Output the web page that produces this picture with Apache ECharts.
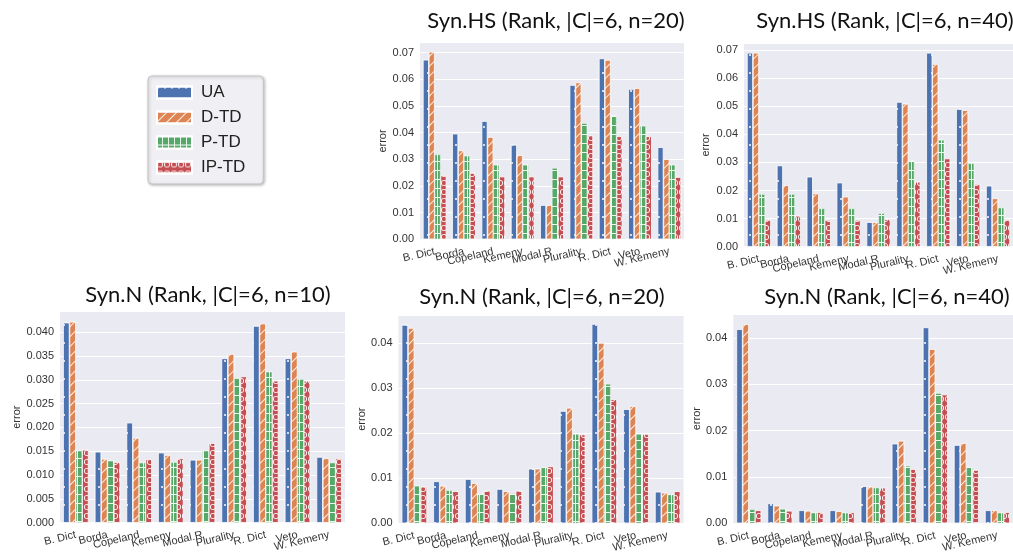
<!DOCTYPE html>
<html>
<head>
<meta charset="utf-8">
<script src="https://cdn.jsdelivr.net/npm/echarts@6/dist/echarts.min.js"></script>
<style>
html,body{margin:0;padding:0;background:#fff;}
#chart{width:1013px;height:554px;}
</style>
</head>
<body>
<div id="chart"></div>
<script>
// ---- data ----
const categories = ['B. Dict','Borda','Copeland','Kemeny','Modal.R','Plurality','R. Dict','Veto','W. Kemeny'];
const methods = ['UA','D-TD','P-TD','IP-TD'];
const panelTitles = ['Syn.HS (Rank, |C|=6, n=20)','Syn.HS (Rank, |C|=6, n=40)','Syn.N (Rank, |C|=6, n=10)','Syn.N (Rank, |C|=6, n=20)','Syn.N (Rank, |C|=6, n=40)'];

// Syn.HS n=20
const hs20_UA   = [0.0673,0.0396,0.0443,0.0354,0.0128,0.0578,0.0678,0.0563,0.0345];
const hs20_DTD  = [0.0703,0.0333,0.0383,0.0315,0.0128,0.0588,0.0672,0.0566,0.0300];
const hs20_PTD  = [0.0318,0.0313,0.0279,0.0279,0.0267,0.0435,0.0463,0.0425,0.0279];
const hs20_IPTD = [0.0240,0.0248,0.0235,0.0235,0.0235,0.0389,0.0386,0.0386,0.0233];
// Syn.HS n=40
const hs40_UA   = [0.0690,0.0289,0.0249,0.0228,0.0087,0.0515,0.0690,0.0490,0.0217];
const hs40_DTD  = [0.0690,0.0219,0.0190,0.0178,0.0087,0.0509,0.0650,0.0486,0.0172];
const hs40_PTD  = [0.0187,0.0187,0.0136,0.0136,0.0119,0.0306,0.0380,0.0297,0.0139];
const hs40_IPTD = [0.0095,0.0110,0.0095,0.0095,0.0098,0.0231,0.0314,0.0223,0.0095];
// Syn.N n=10
const n10_UA   = [0.0420,0.0149,0.0210,0.0147,0.0132,0.0345,0.0413,0.0345,0.0138];
const n10_DTD  = [0.0422,0.0134,0.0178,0.0142,0.0132,0.0354,0.0418,0.0359,0.0135];
const n10_PTD  = [0.0151,0.0130,0.0126,0.0127,0.0151,0.0303,0.0317,0.0301,0.0126];
const n10_IPTD = [0.0153,0.0127,0.0133,0.0135,0.0167,0.0307,0.0298,0.0298,0.0135];
// Syn.N n=20
const n20_UA   = [0.0440,0.0093,0.0098,0.0076,0.0121,0.0249,0.0442,0.0253,0.0070];
const n20_DTD  = [0.0433,0.0083,0.0089,0.0071,0.0121,0.0256,0.0400,0.0260,0.0068];
const n20_PTD  = [0.0083,0.0073,0.0065,0.0066,0.0124,0.0198,0.0309,0.0198,0.0064];
const n20_IPTD = [0.0081,0.0071,0.0072,0.0072,0.0126,0.0197,0.0275,0.0198,0.0071];
// Syn.N n=40
const n40_UA   = [0.0419,0.0043,0.0028,0.0028,0.0080,0.0172,0.0423,0.0169,0.0028];
const n40_DTD  = [0.0430,0.0038,0.0027,0.0026,0.0079,0.0178,0.0376,0.0173,0.0028];
const n40_PTD  = [0.0030,0.0031,0.0023,0.0023,0.0077,0.0124,0.0281,0.0121,0.0023];
const n40_IPTD = [0.0028,0.0027,0.0024,0.0024,0.0077,0.0117,0.0278,0.0115,0.0024];

const panelData = [
  [hs20_UA, hs20_DTD, hs20_PTD, hs20_IPTD],
  [hs40_UA, hs40_DTD, hs40_PTD, hs40_IPTD],
  [n10_UA, n10_DTD, n10_PTD, n10_IPTD],
  [n20_UA, n20_DTD, n20_PTD, n20_IPTD],
  [n40_UA, n40_DTD, n40_PTD, n40_IPTD]
];

// ---- layout / style ----
const panels = [
  {left:420,  top:42.7, width:264, height:196.6, max:0.0737, interval:0.01,  dec:2, nameGap:30, title:[551,5]},
  {left:744,  top:43.3, width:273.6, height:203.4, max:0.0724, interval:0.01, dec:2, nameGap:33, title:[880,5]},
  {left:60,   top:311.7, width:285, height:211, max:0.0443, interval:0.005, dec:3, nameGap:36, title:[203,279]},
  {left:398.5,top:315, width:285, height:211.7, max:0.0462, interval:0.01, dec:2, nameGap:30, title:[537,281]},
  {left:733.3,top:314, width:285, height:212.7, max:0.0452, interval:0.01, dec:2, nameGap:30, title:[882,281]}
];
const colors = ['#4C72B0','#DD8452','#55A868','#C44E52'];
const ringPath = 'path://M8,0A8,8,0,1,1,8,16A8,8,0,1,1,8,0ZM8,2.2A5.8,5.8,0,1,0,8,13.8A5.8,5.8,0,1,0,8,2.2Z';
const decals = [
  {symbol:'circle', symbolSize:1, symbolKeepAspect:true, color:'#ffffff', backgroundColor:null, rotation:0, dashArrayX:[2,4.5], dashArrayY:[2,16]},
  {symbol:'rect', symbolSize:1, symbolKeepAspect:false, color:'rgba(255,255,255,0.85)', backgroundColor:null, dashArrayX:[1,0], dashArrayY:[1,5.5], rotation:-Math.PI/4},
  {symbol:'rect', symbolSize:1, symbolKeepAspect:false, color:'#55A868', backgroundColor:'rgba(255,255,255,0.9)', rotation:0, dashArrayX:[5,0.8], dashArrayY:[8,0.8]},
  {symbol:ringPath, symbolSize:1, symbolKeepAspect:true, color:'#ffffff', backgroundColor:null, rotation:0, dashArrayX:[6,1], dashArrayY:[6,3]}
];
const tickFont = 'Liberation Sans, Arial, sans-serif';

const grids = [], xAxes = [], yAxes = [], series = [], titles = [];
panels.forEach((p, i) => {
  grids.push({left:p.left, top:p.top, width:p.width, height:p.height, show:true, backgroundColor:'#EAEAF2', borderWidth:0, containLabel:false});
  xAxes.push({type:'category', gridIndex:i, data:categories,
    axisLine:{show:false}, axisTick:{show:false}, splitLine:{show:false},
    axisLabel:{interval:0, rotate:13, fontSize:11, color:'#333', margin:12, fontFamily:tickFont}});
  yAxes.push({type:'value', gridIndex:i, min:0, max:p.max, interval:p.interval,
    axisLine:{show:false}, axisTick:{show:false},
    splitLine:{show:true, lineStyle:{color:'#ffffff', width:1}},
    axisLabel:{showMaxLabel:false, fontSize:11, color:'#333', margin:6, fontFamily:tickFont,
      formatter: v => v.toFixed(p.dec)},
    name:'error', nameLocation:'middle', nameGap:p.nameGap,
    nameTextStyle:{fontSize:11, color:'#333', fontFamily:tickFont}});
  titles.push({text:panelTitles[i], left:p.title[0], top:p.title[1], textAlign:'center',
    textStyle:{fontSize:22, fontWeight:'normal', color:'#111', fontFamily:'Lato, Open Sans, sans-serif'}});
  methods.forEach((m, k) => {
    series.push({type:'bar', name:m, xAxisIndex:i, yAxisIndex:i, data:panelData[i][k],
      barGap:'0%', barCategoryGap:'20%',
      itemStyle:{color:colors[k], decal:decals[k], borderColor:'#ffffff', borderWidth:0.5}});
  });
});

const chart = echarts.init(document.getElementById('chart'), null, {renderer:'canvas'});
chart.setOption({
  animation:false,
  backgroundColor:'#ffffff',
  aria:{enabled:true, label:{enabled:false}, decal:{show:true}},
  title:titles,
  legend:{data:methods, orient:'vertical', left:148, top:76, width:114,
    itemWidth:35, itemHeight:12, itemGap:8, icon:'rect',
    padding:[8,18,8,8],
    backgroundColor:'#F0F0F4', borderColor:'#C4C4C4', borderWidth:1, borderRadius:4,
    shadowColor:'rgba(0,0,0,0.25)', shadowBlur:3, shadowOffsetX:1, shadowOffsetY:1,
    textStyle:{fontSize:17, color:'#222', fontFamily:tickFont, padding:[0,0,0,4]}},
  grid:grids, xAxis:xAxes, yAxis:yAxes, series:series
});
</script>
</body>
</html>
